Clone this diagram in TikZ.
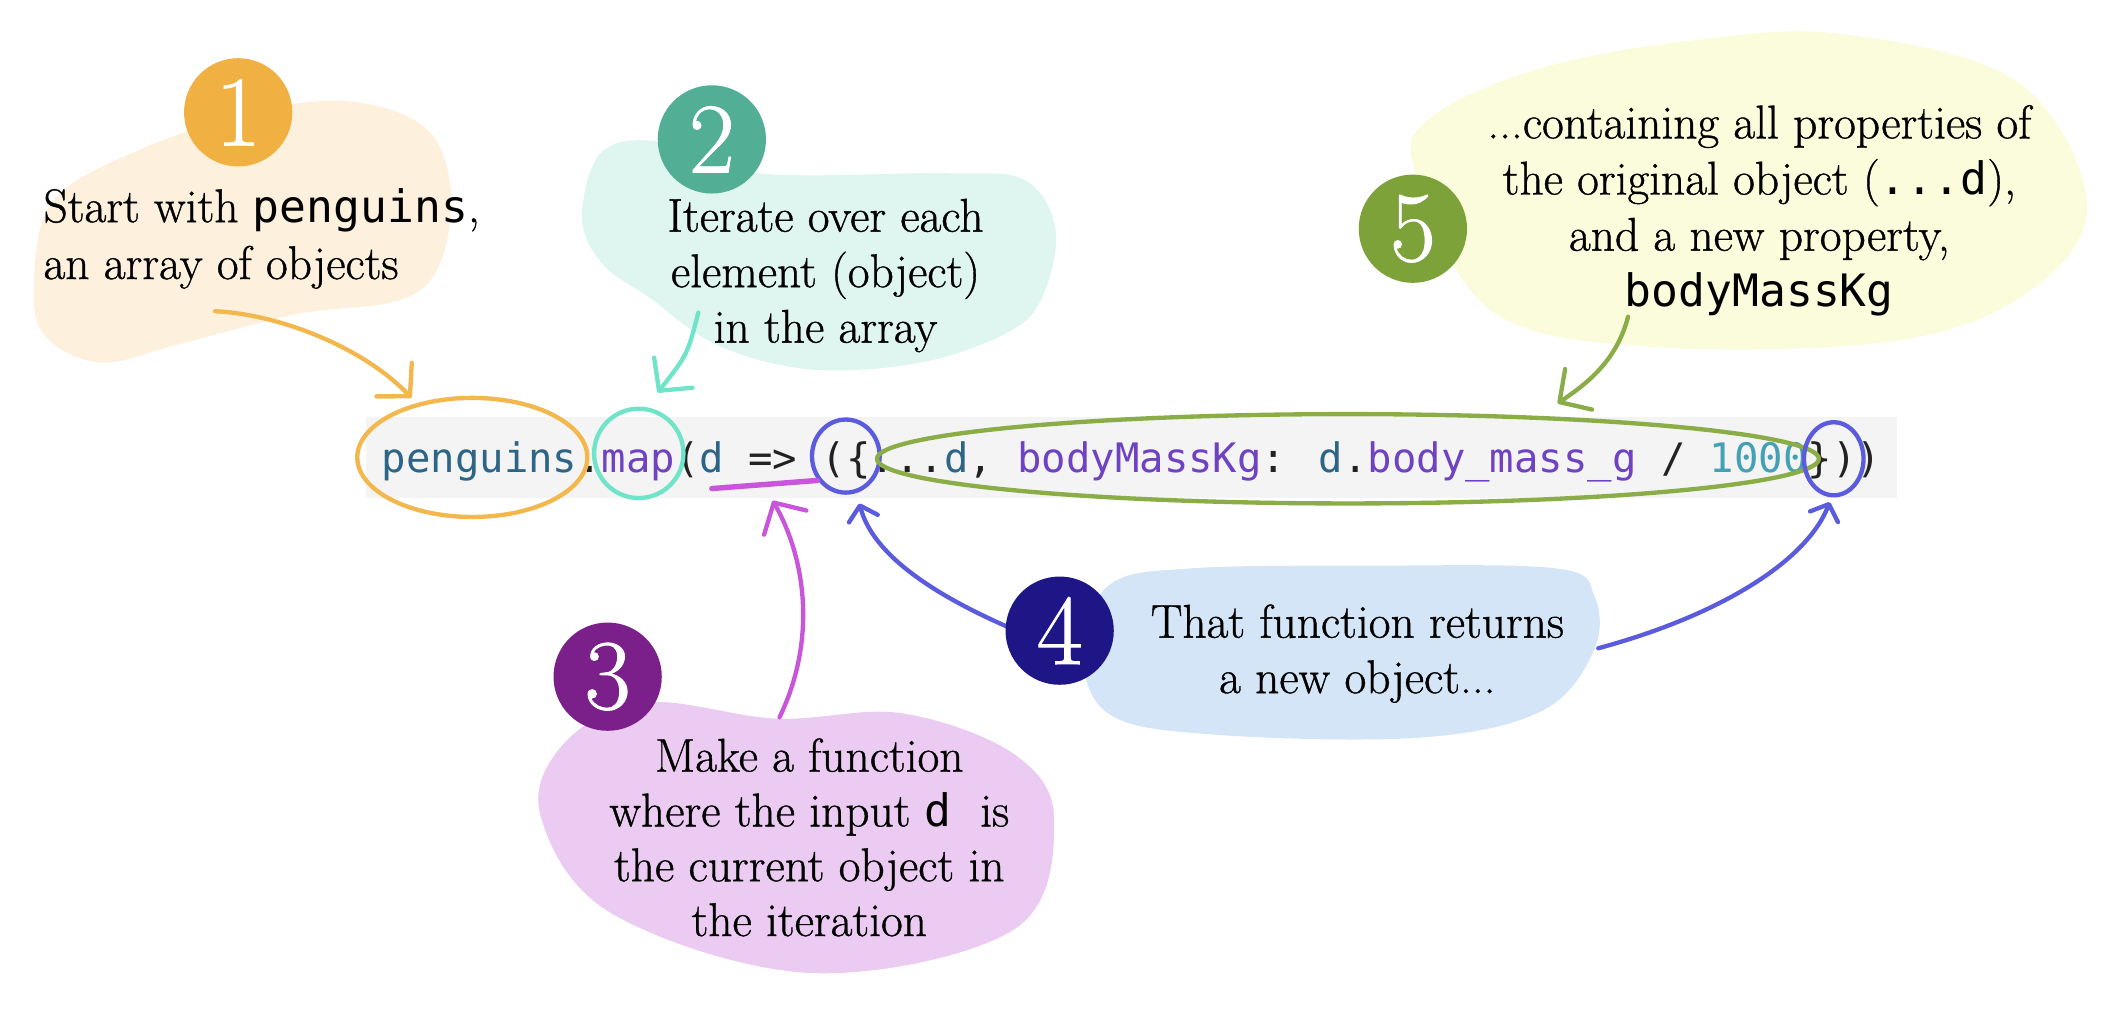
\documentclass[tikz,border=0pt]{standalone}
\usepackage{fontspec}
\setmainfont{Latin Modern Roman}[FakeBold=0.8]
\newfontfamily\codefont{DejaVu Sans Mono}
\usetikzlibrary{arrows.meta}
\definecolor{blobA}{HTML}{FDF1DD}
\definecolor{circA}{HTML}{F0B042}
\definecolor{lineA}{HTML}{F2B84E}
\definecolor{blobB}{HTML}{DFF6F0}
\definecolor{circB}{HTML}{52AE95}
\definecolor{lineB}{HTML}{6FE4C8}
\definecolor{blobC}{HTML}{EBCBF2}
\definecolor{circC}{HTML}{7B1F8A}
\definecolor{lineC}{HTML}{C855DA}
\definecolor{blobD}{HTML}{D4E5F8}
\definecolor{circD}{HTML}{1E1686}
\definecolor{lineD}{HTML}{5B5BDD}
\definecolor{blobE}{HTML}{FBFCDB}
\definecolor{circE}{HTML}{7EA23A}
\definecolor{lineE}{HTML}{8BAD47}
\definecolor{codebg}{HTML}{F4F4F4}
\definecolor{cid}{HTML}{2D6587}
\definecolor{cfn}{HTML}{6F42C1}
\definecolor{cnum}{HTML}{43A0B5}
\definecolor{cink}{HTML}{222222}
\begin{document}
\begin{tikzpicture}[x=1pt,y=-1pt,
  numcirc/.style={circle, inner sep=0pt, minimum size=80pt, text=white, font=\fontsize{74}{74}\selectfont},
  note/.style={inner sep=0pt, align=center, text=black},
  sketch/.style={line width=3.2pt, line cap=round, line join=round},
  bigtip/.style={-{Straight Barb[length=17pt,width=36pt,round]}},
  smalltip/.style={-{Straight Barb[length=10pt,width=22pt,round]}}
]
\useasboundingbox (0,0) rectangle (1568,758);

% blobs
\fill[blobA] plot[smooth cycle, tension=0.6] coordinates {(25,215) (38,150) (100,112) (190,82) (260,75) (315,95) (333,140) (325,195) (295,222) (220,232) (130,255) (75,268) (35,250)};
\fill[blobB] plot[smooth cycle, tension=0.6] coordinates {(430,160) (445,112) (490,105) (560,128) (700,128) (757,133) (780,170) (770,220) (744,246) (680,268) (599,273) (530,255) (480,220) (445,195)};
\fill[blobC] plot[smooth cycle, tension=0.6] coordinates {(478,519) (574,531) (666,527) (749,557) (779,606) (749,687) (600,719) (452,675) (399,601) (419,547)};
\fill[blobD] plot[smooth cycle, tension=0.6] coordinates {(800,480) (820,432) (880,420) (1010,418) (1150,420) (1178,440) (1178,480) (1140,525) (1050,545) (900,543) (820,528)};
\fill[blobE] plot[smooth cycle, tension=0.6] coordinates {(1045,125) (1060,85) (1140,50) (1250,30) (1360,25) (1490,60) (1542,150) (1500,215) (1400,252) (1216,256) (1100,228)};

% code
\node[anchor=base west, fill=codebg, inner xsep=12pt, inner ysep=0pt, text height=41pt, text depth=19pt, text=cink, font={\codefont\fontsize{30}{36}\selectfont}] (code) at (270,349)
{\textcolor{cid}{penguins}.\textcolor{cfn}{map}(\textcolor{cid}{d} => (\{...\textcolor{cid}{d}, \textcolor{cfn}{bodyMassKg}: \textcolor{cid}{d}.\textcolor{cfn}{body\_mass\_g} / \textcolor{cnum}{1000}\}))};

% highlights on the code
\draw[sketch, lineA] (349,338) ellipse [x radius=85, y radius=44];
\draw[sketch, lineB] (472,335) ellipse [x radius=33, y radius=33];
\draw[sketch, lineD] (625,337) ellipse [x radius=25, y radius=27];
\draw[sketch, lineE] (996,339) ellipse [x radius=348, y radius=33];
\draw[sketch, lineD] (1355,339) ellipse [x radius=22, y radius=27];
\draw[sketch, lineC, line width=4pt] (526,361) -- (604,355);

% connector end points
\coordinate (a1s) at (159,230); \coordinate (a1e) at (304,294);
\coordinate (a2s) at (516,231); \coordinate (a2e) at (486,290);
\coordinate (a3s) at (576,530); \coordinate (a3e) at (571,370);
\coordinate (a4s) at (751,466); \coordinate (a4e) at (635,372);
\coordinate (a6s) at (1181,479); \coordinate (a6e) at (1352,371);
\coordinate (a5s) at (1203,234); \coordinate (a5e) at (1151,298);

\draw[sketch, lineA, bigtip] (a1s) .. controls (205,232) and (268,256) .. (a1e);
\draw[sketch, lineB, bigtip] (a2s) .. controls (508,262) .. (a2e);
\draw[sketch, lineC, bigtip] (a3s) .. controls (604,472) and (595,412) .. (a3e);
\draw[sketch, lineD, smalltip] (a4s) .. controls (690,440) and (645,410) .. (a4e);
\draw[sketch, lineD, smalltip] (a6s) .. controls (1270,455) and (1335,415) .. (a6e);
\draw[sketch, lineE, bigtip] (a5s) .. controls (1195,265) and (1175,282) .. (a5e);

% number circles
\node[numcirc, fill=circA] (c1) at (176,83) {1};
\node[numcirc, fill=circB] (c2) at (526,103) {2};
\node[numcirc, fill=circC] (c3) at (449,500) {3};
\node[numcirc, fill=circD] (c4) at (783,466) {4};
\node[numcirc, fill=circE] (c5) at (1044,169) {5};

% texts
\node[note, align=left, anchor=north west, font=\fontsize{35}{42}\selectfont] (t1) at (32,134.6)
{\strut Start with {\codefont\fontsize{33}{42}\selectfont penguins},\\ an array of objects};
\node[note, anchor=north, font=\fontsize{35}{41}\selectfont] (t2) at (610,142.3)
{\strut Iterate over each\\ element (object)\\ in the array};
\node[note, anchor=north, font=\fontsize{35}{40.5}\selectfont] (t3) at (598,541.6)
{\strut Make a function\\ where the input {\codefont\fontsize{33}{40.5}\selectfont d}~ is\\ the current object in\\ the iteration};
\node[note, anchor=north, font=\fontsize{35}{41}\selectfont] (t4) at (1003,442.3)
{\strut That function returns\\ a new object...};
\node[note, anchor=north, font=\fontsize{35}{41.5}\selectfont] (t5) at (1300,73)
{\strut ...containing all properties of\\ the original object ({\codefont\fontsize{33}{41.5}\selectfont ...d}),\\ and a new property,\\ {\codefont\fontsize{33}{41.5}\selectfont bodyMassKg}};
\end{tikzpicture}
\end{document}
